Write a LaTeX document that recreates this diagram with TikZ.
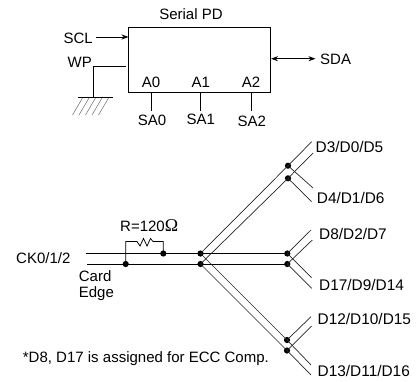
\documentclass[tikz,border=0pt]{standalone}
\usepackage{fontspec}
\setmainfont{Liberation Sans}
\newfontfamily\symfont{Liberation Serif}
\usetikzlibrary{arrows.meta}
\tikzset{
  lbl/.style={inner sep=0pt,font=\fontsize{15}{15}\selectfont,text height=10.7pt,text depth=0pt},
  dlbl/.style={lbl,anchor=west,font=\fontsize{15.4}{15.4}\selectfont,text height=11pt},
  wire/.style={line width=0.95pt,black},
  thinwire/.style={line width=0.7pt,black!85},
  hatch/.style={line width=0.55pt,black!55},
  dot/.style={circle,fill=black,inner sep=0pt,minimum size=6.2pt},
  arr/.style={-{Stealth[length=7pt,width=5pt]},line width=0.85pt},
  biarr/.style={{Stealth[length=7pt,width=5pt]}-{Stealth[length=7pt,width=5pt]},line width=0.85pt}
}
\begin{document}
\begin{tikzpicture}[x=1pt,y=-1pt]
\useasboundingbox (0,0) rectangle (420,381);
% top block
\node[draw,wire,rectangle,minimum width=141.5pt,minimum height=64.5pt,inner sep=0pt] (pd) at (199.25,59.75) {};
\node[lbl] (title) at (191,14) {Serial PD};
\node[lbl,anchor=east] (scl) at (93,38) {SCL};
\node[lbl,anchor=east] (wp) at (92,62) {WP};
\node[lbl] (a0) at (151,82) {A0};
\node[lbl] (a1) at (200.7,82) {A1};
\node[lbl] (a2) at (251,82) {A2};
\node[lbl] (sa0) at (152,120) {SA0};
\node[lbl] (sa1) at (200.7,119.5) {SA1};
\node[lbl] (sa2) at (251.7,121) {SA2};
\node[lbl,anchor=west] (sda) at (320,59) {SDA};
\coordinate (sclS) at (96,37);
\coordinate (sclE) at (128.5,37);
\draw[arr] (sclS) -- (sclE);
\coordinate (wpE) at (126,66);
\coordinate (wpC) at (93.3,66);
\coordinate (gnd) at (93.3,97.5);
\coordinate (gndL) at (78,97.5);
\coordinate (gndR) at (113,97.5);
\draw[wire] (wpE) -- (wpC) -- (gnd);
\draw[wire] (gndL) -- (gndR);
\foreach \i in {0,...,4}{
  \draw[hatch] ({82.5+6.5*\i},98) -- ({72.5+6.5*\i},115);
}
\coordinate (sdaL) at (271,58.7);
\coordinate (sdaR) at (315.5,58.7);
\draw[biarr] (sdaL) -- (sdaR);
\foreach \n/\x in {0/151.3,1/200.7,2/251.3}{
  \coordinate (t\n) at (\x,92);
  \coordinate (b\n) at (\x,111);
  \draw[wire] (t\n) -- (b\n);
}
% lower part
\node[dot] (jcl) at (125.7,264) {};
\node[dot] (jcu) at (163.3,253.5) {};
\node[dot] (ju) at (200.5,253.5) {};
\node[dot] (jl) at (200.5,264) {};
\node[dot] (mu) at (287.3,253.5) {};
\node[dot] (ml) at (287.3,264) {};
\node[dot] (tu) at (288,165.7) {};
\node[dot] (tl) at (288,178.3) {};
\node[dot] (bu) at (287,340) {};
\node[dot] (bl) at (287,350.5) {};
\coordinate (cku) at (86,253.5);
\coordinate (ckl) at (87,264);
\draw[wire] (cku) -- (mu.center);
\draw[wire] (ckl) -- (ml.center);
\coordinate (r0) at (125.7,241.5);
\coordinate (r1) at (163.3,241.5);
\draw[line width=0.75pt] (jcl.center) -- (r0) -- (137,241.5) -- (140,246) -- (143.5,238.5) -- (147,246) -- (150.5,238.5) -- (153,241.5) -- (r1) -- (jcu.center);
\draw[thinwire] (ju.center) -- (tu.center);
\draw[thinwire] (jl.center) -- (tl.center);
\draw[thinwire] (ju.center) -- (bu.center);
\draw[thinwire] (jl.center) -- (bl.center);
% branch ends
\coordinate (e1) at (311.7,141.7);
\coordinate (e2) at (313,153);
\coordinate (e3) at (313,188);
\coordinate (e4) at (311.7,201.7);
\coordinate (e5) at (311,230);
\coordinate (e6) at (312.3,240);
\coordinate (e7) at (311.7,277.7);
\coordinate (e8) at (311.7,288.3);
\coordinate (e9) at (311,316.7);
\coordinate (e10) at (311.7,326);
\coordinate (e11) at (311,365);
\coordinate (e12) at (311,375);
\draw[thinwire] (tu.center) -- (e1);
\draw[thinwire] (tl.center) -- (e2);
\draw[thinwire] (tu.center) -- (e3);
\draw[thinwire] (tl.center) -- (e4);
\draw[thinwire] (mu.center) -- (e5);
\draw[thinwire] (ml.center) -- (e6);
\draw[thinwire] (mu.center) -- (e7);
\draw[thinwire] (ml.center) -- (e8);
\draw[thinwire] (bu.center) -- (e9);
\draw[thinwire] (bl.center) -- (e10);
\draw[thinwire] (bu.center) -- (e11);
\draw[thinwire] (bl.center) -- (e12);
\node[dlbl] (d1) at (315.5,147.3) {D3/D0/D5};
\node[dlbl] (d2) at (316.7,198.3) {D4/D1/D6};
\node[dlbl] (d3) at (319,234) {D8/D2/D7};
\node[dlbl] (d4) at (319,285) {D17/D9/D14};
\node[dlbl] (d5) at (317.5,319.3) {D12/D10/D15};
\node[dlbl] (d6) at (317.5,370.7) {D13/D11/D16};
\node[lbl,anchor=west] (ck) at (16,258) {CK0/1/2};
\node[lbl,anchor=west] (card) at (78.7,276) {Card};
\node[lbl,anchor=west] (edge) at (78.7,292) {Edge};
\node[lbl,anchor=west] (r) at (120,225.7) {R=120{\symfont\fontsize{18}{18}\selectfont Ω}};
\node[lbl,anchor=west] (note) at (22.7,356.7) {*D8, D17 is assigned for ECC Comp.};
\end{tikzpicture}
\end{document}
